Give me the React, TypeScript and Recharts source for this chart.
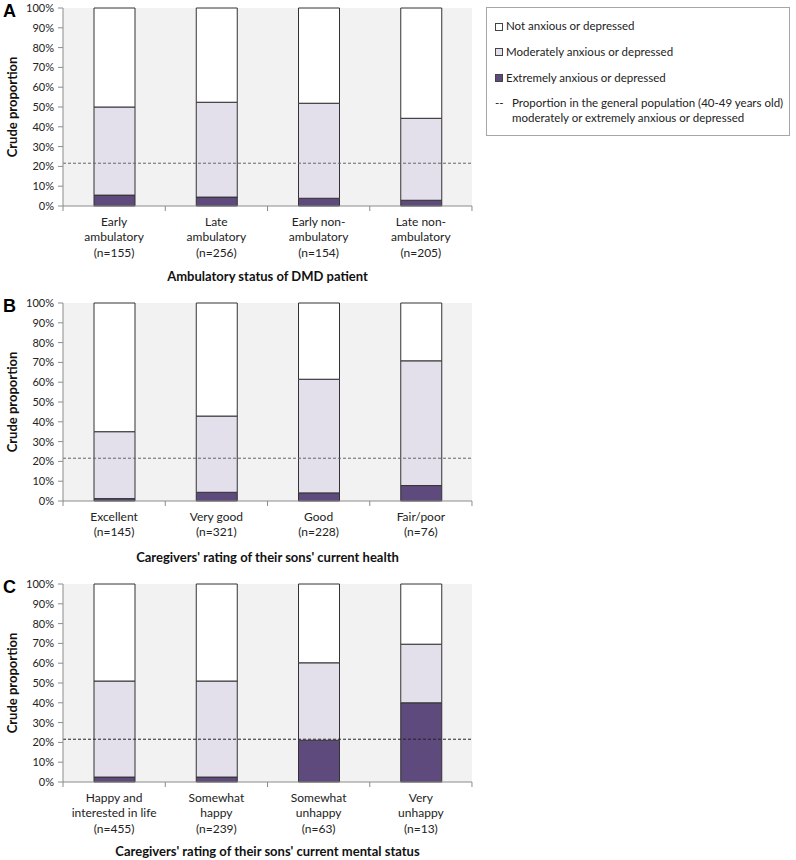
import { BarChart, Bar, XAxis, YAxis, CartesianGrid, ReferenceLine } from 'recharts'

const FONT = 'Lato, "Open Sans", sans-serif'
const EXTREME = '#5e4a7d'
const MODERATE = '#e4e0eb'
const NOT_ANX = '#ffffff'
const EDGE = '#333333'
const PLOT_BG = '#f2f2f2'
const AXIS = '#8c8c8c'

// reference line: general population (40-49 y) moderately or extremely anxious/depressed
const generalPopulation = 21.6
const yTicks = [0, 10, 20, 30, 40, 50, 60, 70, 80, 90, 100]

// A - ambulatory status
const ambulatoryLabels = ['Early\nambulatory\n(n=155)', 'Late\nambulatory\n(n=256)', 'Early non-\nambulatory\n(n=154)', 'Late non-\nambulatory\n(n=205)']
const ambulatoryExtreme = [5.5, 4.5, 3.9, 2.9]
const ambulatoryModerate = [44.5, 47.9, 48.0, 41.4]
const ambulatoryNot = [50.0, 47.6, 48.1, 55.7]

// B - current health
const healthLabels = ['Excellent\n(n=145)', 'Very good\n(n=321)', 'Good\n(n=228)', 'Fair/poor\n(n=76)']
const healthExtreme = [1.2, 4.4, 4.1, 7.8]
const healthModerate = [33.8, 38.5, 57.4, 63.0]
const healthNot = [65.0, 57.1, 38.5, 29.2]

// C - mental status
const mentalLabels = ['Happy and\ninterested in life\n(n=455)', 'Somewhat\nhappy\n(n=239)', 'Somewhat\nunhappy\n(n=63)', 'Very\nunhappy\n(n=13)']
const mentalExtreme = [2.5, 2.5, 21.1, 40.0]
const mentalModerate = [48.5, 48.5, 39.1, 29.6]
const mentalNot = [49.0, 49.0, 39.8, 30.4]

const legendItems = [
  { label: 'Not anxious or depressed', color: NOT_ANX },
  { label: 'Moderately anxious or depressed', color: MODERATE },
  { label: 'Extremely anxious or depressed', color: EXTREME },
]

const CHART_W = 480
const HALF_BAND = 51.1

function makeTick(count: number) {
  return (props: any) => {
    const { x, y, payload, index } = props
    const lines = String(payload.value).split('\n')
    return (
      <g>
        <line x1={x - HALF_BAND} x2={x - HALF_BAND} y1={y} y2={y + 5} stroke={AXIS} />
        {index === count - 1 && <line x1={x + HALF_BAND} x2={x + HALF_BAND} y1={y} y2={y + 5} stroke={AXIS} />}
        <text x={x} y={y} textAnchor="middle" fontSize={12} fill="#222" fontFamily={FONT}>
          {lines.map((l, i) => (
            <tspan key={i} x={x} dy={i === 0 ? 20 : 15.3}>{l}</tspan>
          ))}
        </text>
      </g>
    )
  }
}

const YTitle = (props: any) => {
  const vb = props.viewBox || { x: 0, y: 0, height: 0 }
  const cx = 12
  const cy = vb.y + vb.height / 2
  return (
    <text x={cx} y={cy} transform={`rotate(-90 ${cx} ${cy})`} textAnchor="middle" dominantBaseline="central"
      fontSize={13} fontWeight="bold" fill="#111" fontFamily={FONT}>
      Crude proportion
    </text>
  )
}

function Panel({ letter, labels, extreme, moderate, notAnx, title, top, height, titleOffset, refColor }: any) {
  const data = labels.map((name: string, i: number) => ({
    name, extreme: extreme[i], moderate: moderate[i], notAnx: notAnx[i],
  }))
  return (
    <div style={{ position: 'absolute', left: 0, top }}>
      <div style={{ position: 'absolute', left: 3, top: 2, fontFamily: 'Arial, sans-serif', fontWeight: 'bold', fontSize: 18, lineHeight: '18px', zIndex: 2 }}>{letter}</div>
      <BarChart width={CHART_W} height={height} data={data} margin={{ top: 8, right: 8, bottom: 0, left: 0 }}>
        <CartesianGrid fill={PLOT_BG} horizontal={false} vertical={false} />
        <XAxis dataKey="name" tick={makeTick(labels.length)} tickLine={false} tickSize={0} tickMargin={0}
          axisLine={{ stroke: AXIS }} height={height - 206} interval={0}
          label={{ value: title, position: 'insideBottom', offset: titleOffset, fontSize: 13, fontWeight: 'bold', fill: '#111', fontFamily: FONT }} />
        <XAxis xAxisId="top" orientation="top" dataKey="name" height={0} tick={false} tickLine={false} axisLine={{ stroke: '#a6a6a6' }} />
        <YAxis domain={[0, 100]} ticks={yTicks} interval={0} tickFormatter={(v) => `${v}%`} width={63}
          tickSize={5} tickMargin={4} axisLine={{ stroke: AXIS }} tickLine={{ stroke: AXIS }}
          tick={{ fontSize: 11, fill: '#222', fontFamily: FONT }} label={<YTitle />} />
        <YAxis yAxisId="right" orientation="right" domain={[0, 100]} width={0} tick={false} tickLine={false} axisLine={{ stroke: '#a6a6a6' }} />
        <Bar dataKey="extreme" stackId="s" fill={EXTREME} stroke={EDGE} strokeWidth={1} barSize={41} isAnimationActive={false} />
        <Bar dataKey="moderate" stackId="s" fill={MODERATE} stroke={EDGE} strokeWidth={1} barSize={41} isAnimationActive={false} />
        <Bar dataKey="notAnx" stackId="s" fill={NOT_ANX} stroke={EDGE} strokeWidth={1} barSize={41} isAnimationActive={false} />
        <ReferenceLine y={generalPopulation} stroke={refColor} strokeDasharray="3 2" />
      </BarChart>
    </div>
  )
}

function Legend() {
  const boxTop = 7
  return (
    <div style={{ position: 'absolute', left: 486, top: boxTop, width: 302, height: 127, border: '1px solid #a6a6a6', background: '#fff', fontFamily: FONT, fontSize: 11.5, color: '#222' }}>
      {legendItems.map((it, i) => {
        const cy = [18, 43.7, 69.7][i]
        return (
          <div key={it.label}>
            <div style={{ position: 'absolute', left: 8, top: cy - 3.5, width: 6, height: 6, background: it.color, border: '1px solid #444' }} />
            <div style={{ position: 'absolute', left: 19, top: cy - 8, lineHeight: '16px', whiteSpace: 'nowrap' }}>{it.label}</div>
          </div>
        )
      })}
      <div style={{ position: 'absolute', left: 8, top: 94.7 - 8, lineHeight: '16px' }}>--</div>
      <div style={{ position: 'absolute', left: 25, top: 94.7 - 8, lineHeight: '16px', whiteSpace: 'nowrap' }}>Proportion in the general population (40-49 years old)</div>
      <div style={{ position: 'absolute', left: 25, top: 110.3 - 8, lineHeight: '16px', whiteSpace: 'nowrap' }}>moderately or extremely anxious or depressed</div>
    </div>
  )
}

export default function App() {
  return (
    <div style={{ position: 'absolute', left: 0, top: 0, width: 796, height: 860, background: '#fff', overflow: 'hidden' }}>
      <Panel letter="A" labels={ambulatoryLabels} extreme={ambulatoryExtreme} moderate={ambulatoryModerate} notAnx={ambulatoryNot}
        title="Ambulatory status of DMD patient" top={0} height={290} titleOffset={9} refColor="#666" />
      <Panel letter="B" labels={healthLabels} extreme={healthExtreme} moderate={healthModerate} notAnx={healthNot}
        title="Caregivers' rating of their sons' current health" top={295} height={276} titleOffset={9} refColor="#666" />
      <Panel letter="C" labels={mentalLabels} extreme={mentalExtreme} moderate={mentalModerate} notAnx={mentalNot}
        title="Caregivers' rating of their sons' current mental status" top={576} height={284} titleOffset={4} refColor="#222" />
      <Legend />
    </div>
  )
}
